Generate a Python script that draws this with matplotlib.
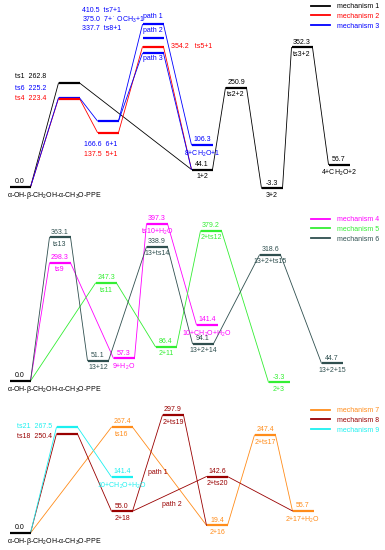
import matplotlib
matplotlib.use("Agg")
import matplotlib.pyplot as plt
from matplotlib.lines import Line2D

plt.rcParams["font.family"] = ["Liberation Sans", "DejaVu Sans"]
plt.rcParams["mathtext.default"] = "regular"

W, H = 385, 550
K = 0.396          # pixels per kJ/mol
HALF = 10.5        # half width of a level, px
FS = 5.0

BLACK = "#000000"
RED = "#FF0000"
BLUE = "#0000FF"
MAGENTA = "#FF00FF"
GREEN = "#33EE33"
SLATE = "#2F4F4F"
ORANGE = "#FF8C1A"
DKRED = "#990000"
CYAN = "#1CF0F0"

REACTANT = "α-OH-β-CH$_2$OH-α-CH$_3$O-PPE"

# ---- panel 1: mechanisms 1-3 ----
P1_NAMES = [REACTANT, "ts1", "ts6", "ts4", "6+1", "5+1", "ts7+1",
            "7+$^\\bullet$ OCH$_3$+1", "ts8+1", "ts5+1", "8+CH$_2$O+1", "1+2",
            "ts2+2", "3+2", "ts3+2", "4+CH$_2$O+2"]
P1_ENERGY = [0.0, 262.8, 225.2, 223.4, 166.6, 137.5, 410.5, 375.0, 337.7,
             354.2, 106.3, 44.1, 250.9, -3.3, 352.3, 56.7]
P1_X = [20, 69, 69, 69, 108, 108, 153, 153, 153, 153, 202, 202, 236, 272, 302, 339]
P1_COLOR = [BLACK, BLACK, BLUE, RED, BLUE, RED, BLUE, BLUE, BLUE, RED, BLUE,
            BLACK, BLACK, BLACK, BLACK, BLACK]
P1_PATHS = [([0, 1, 11, 12, 13, 14, 15], BLACK),
            ([0, 3, 5, 9, 11], RED),
            ([0, 2, 4, 6, 10], BLUE),
            ([4, 8, 11], BLUE)]
P1_LEGEND = (["mechanism 1", "mechanism 2", "mechanism 3"], [BLACK, RED, BLUE])

# ---- panel 2: mechanisms 4-6 ----
P2_NAMES = [REACTANT, "ts13", "ts9", "ts11", "13+12", "9+H$_2$O", "ts10+H$_2$O",
            "13+ts14", "2+11", "2+ts12", "10+CH$_2$O+H$_2$O", "13+2+14",
            "13+2+ts15", "2+3", "13+2+15"]
P2_ENERGY = [0.0, 363.1, 298.3, 247.3, 51.1, 57.3, 397.3, 338.9, 86.4, 379.2,
             141.4, 94.1, 318.6, -3.3, 44.7]
P2_X = [20, 60, 60, 106, 98, 124, 157, 157, 166, 211, 207, 203, 270, 279, 332]
P2_COLOR = [BLACK, SLATE, MAGENTA, GREEN, SLATE, MAGENTA, MAGENTA, SLATE, GREEN,
            GREEN, MAGENTA, SLATE, SLATE, GREEN, SLATE]
P2_PATHS = [([0, 2, 5, 6, 10], MAGENTA),
            ([0, 3, 8, 9, 13], GREEN),
            ([0, 1, 4, 7, 11, 12, 14], SLATE)]
P2_LEGEND = (["mechanism 4", "mechanism 5", "mechanism 6"], [MAGENTA, GREEN, SLATE])

# ---- panel 3: mechanisms 7-9 ----
P3_NAMES = [REACTANT, "ts21", "ts18", "ts16", "10+CH$_2$O+H$_2$O", "2+18",
            "2+ts19", "2+16", "2+ts20", "2+ts17", "2+17+H$_2$O"]
P3_ENERGY = [0.0, 267.5, 250.4, 267.4, 141.4, 55.0, 297.9, 19.4, 142.6, 247.4, 55.7]
P3_X = [20, 67, 67, 122, 122, 122, 173, 217, 217, 265, 303]
P3_COLOR = [BLACK, CYAN, DKRED, ORANGE, CYAN, DKRED, DKRED, ORANGE, DKRED,
            ORANGE, ORANGE]
P3_PATHS = [([0, 3, 7, 9, 10], ORANGE),
            ([0, 2, 5, 6, 7], DKRED),
            ([5, 8, 10], DKRED),
            ([0, 1, 4], CYAN)]
P3_LEGEND = (["mechanism 7", "mechanism 8", "mechanism 9"], [ORANGE, DKRED, CYAN])

fig = plt.figure(figsize=(W / 100, H / 100), dpi=100)


def panel_axes(top, bottom, zero):
    ax = fig.add_axes([0, 1 - bottom / H, 1, (bottom - top) / H])
    ax.set_xlim(0, W)
    ax.set_ylim((zero - bottom) / K, (zero - top) / K)
    ax.axis("off")
    return ax


def fig_label(x, y, s, color, ha="left"):
    fig.text(x / W, 1 - y / H, s, color=color, fontsize=FS, ha=ha, va="center")


def draw_panel(ax, names, energy, xs, colors, paths, custom, legend, legend_top):
    for seq, col in paths:
        for a, b in zip(seq[:-1], seq[1:]):
            ax.plot([xs[a] + HALF, xs[b] - HALF], [energy[a], energy[b]],
                    color=col, lw=0.6, zorder=1)
    for i, (name, e, x, col) in enumerate(zip(names, energy, xs, colors)):
        ax.plot([x - HALF, x + HALF], [e, e], color=col, lw=1.6,
                solid_capstyle="butt", zorder=2)
        if i in custom:
            continue
        ax.annotate(f"{e:.1f}", (x, e), xytext=(0, 1.2), textcoords="offset points",
                    ha="center", va="bottom", fontsize=FS, color=col)
        if i == 0:
            ax.annotate(name, (x - 13, e), xytext=(0, -2.5), textcoords="offset points",
                        ha="left", va="top", fontsize=FS, color=col)
        else:
            ax.annotate(name, (x, e), xytext=(0, -2.5), textcoords="offset points",
                        ha="center", va="top", fontsize=FS, color=col)
    labels, cols = legend
    handles = [Line2D([], [], color=c, lw=1.3) for c in cols]
    leg = ax.legend(handles, labels, loc="upper left",
                    bbox_to_anchor=(311 / W, 1 - legend_top / H),
                    bbox_transform=fig.transFigure, frameon=False, fontsize=FS,
                    handlelength=2.8, handletextpad=1.0, labelspacing=0.42,
                    borderpad=0, borderaxespad=0)
    for txt, c in zip(leg.get_texts(), cols):
        txt.set_color(c)


ax1 = panel_axes(0, 200, 187)
draw_panel(ax1, P1_NAMES, P1_ENERGY, P1_X, P1_COLOR, P1_PATHS,
           {1, 2, 3, 4, 5, 6, 7, 8, 9}, P1_LEGEND, 3)
fig_label(15, 76, f"{P1_NAMES[1]}  {P1_ENERGY[1]:.1f}", BLACK)
fig_label(15, 88, f"{P1_NAMES[2]}  {P1_ENERGY[2]:.1f}", BLUE)
fig_label(15, 99, f"{P1_NAMES[3]}  {P1_ENERGY[3]:.1f}", RED)
fig_label(84, 145, f"{P1_ENERGY[4]:.1f}  {P1_NAMES[4]}", BLUE)
fig_label(84, 155, f"{P1_ENERGY[5]:.1f}  {P1_NAMES[5]}", RED)
fig_label(82, 10, f"{P1_ENERGY[6]:.1f}  {P1_NAMES[6]}", BLUE)
fig_label(82, 20, f"{P1_ENERGY[7]:.1f}  {P1_NAMES[7]}", BLUE)
fig_label(82, 29, f"{P1_ENERGY[8]:.1f}  {P1_NAMES[8]}", BLUE)
fig_label(171, 46, f"{P1_ENERGY[9]:.1f}   {P1_NAMES[9]}", RED)
fig_label(153, 17, "path 1", BLUE, ha="center")
fig_label(153, 31, "path 2", BLUE, ha="center")
fig_label(153, 58, "path 3", BLUE, ha="center")

ax2 = panel_axes(200, 392, 381)
draw_panel(ax2, P2_NAMES, P2_ENERGY, P2_X, P2_COLOR, P2_PATHS,
           set(), P2_LEGEND, 216)

ax3 = panel_axes(392, 550, 533)
draw_panel(ax3, P3_NAMES, P3_ENERGY, P3_X, P3_COLOR, P3_PATHS,
           {1, 2}, P3_LEGEND, 407)
fig_label(17, 426, f"{P3_NAMES[1]}  {P3_ENERGY[1]:.1f}", CYAN)
fig_label(17, 436, f"{P3_NAMES[2]}  {P3_ENERGY[2]:.1f}", DKRED)
fig_label(148, 472, "path 1", DKRED)
fig_label(162, 505, "path 2", DKRED)

fig.savefig("out.png", dpi=100)
